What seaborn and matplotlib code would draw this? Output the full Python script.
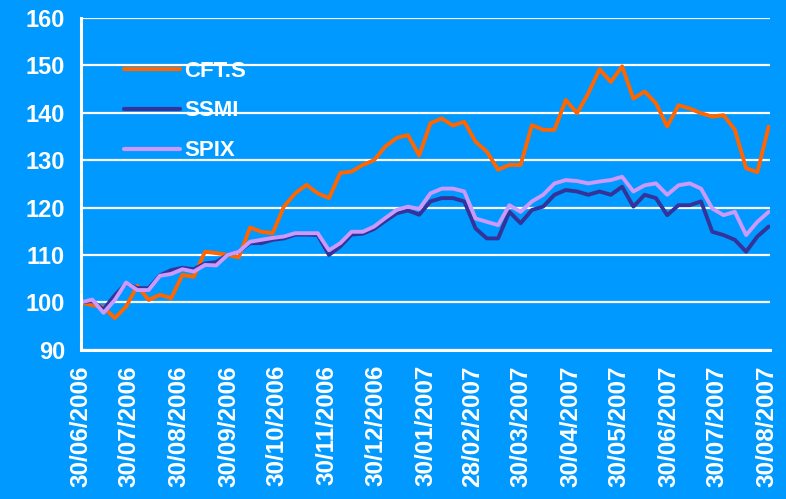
import matplotlib
matplotlib.use("Agg")
import matplotlib.pyplot as plt
import matplotlib.dates as mdates
import pandas as pd
import seaborn as sns

# weekly closes, rebased to 100 on 30/06/2006
dates = pd.date_range("2006-06-30", periods=62, freq="7D")

cft = [100.0, 99.4, 99.0, 96.7, 99.1, 103.5, 100.5, 101.6, 100.9, 105.8,
       105.4, 110.7, 110.4, 110.0, 109.5, 115.8, 114.9, 114.6, 120.2, 123.0,
       124.8, 123.0, 122.0, 127.3, 127.6, 129.0, 130.0, 132.9, 134.7, 135.3,
       131.0, 137.8, 138.8, 137.3, 138.1, 133.9, 131.8, 128.0, 129.0, 129.0,
       137.4, 136.4, 136.4, 142.7, 139.9, 144.1, 149.2, 146.5, 149.8, 143.0,
       144.5, 142.0, 137.1, 141.6, 140.9, 139.9, 139.2, 139.5, 136.4, 128.3,
       127.5, 137.1]

ssmi = [100.0, 100.3, 98.5, 101.5, 104.0, 103.0, 103.0, 105.7, 106.8, 107.3,
        107.0, 108.2, 108.5, 110.0, 110.7, 112.5, 112.5, 113.2, 113.5, 114.3,
        114.3, 114.2, 110.0, 111.8, 114.3, 114.5, 115.5, 117.2, 118.8, 119.4,
        118.5, 121.3, 122.0, 122.0, 121.3, 115.6, 113.5, 113.5, 119.1, 116.7,
        119.5, 120.2, 122.7, 123.7, 123.4, 122.7, 123.4, 122.7, 124.4, 120.2,
        122.7, 122.0, 118.4, 120.5, 120.5, 121.3, 114.9, 114.2, 113.2, 110.7,
        113.9, 116.0]

spix = [100.0, 100.6, 97.8, 100.5, 104.2, 102.6, 102.6, 105.6, 106.0, 107.0,
        106.5, 107.9, 107.8, 110.0, 110.7, 112.8, 113.2, 113.6, 113.9, 114.6,
        114.6, 114.6, 111.0, 112.5, 114.9, 114.9, 116.0, 117.8, 119.5, 120.2,
        119.7, 123.0, 124.0, 124.0, 123.4, 117.7, 117.0, 116.3, 120.5, 119.1,
        121.3, 122.7, 125.1, 125.8, 125.6, 125.1, 125.5, 125.8, 126.5, 123.4,
        124.7, 125.1, 122.7, 124.7, 125.1, 124.0, 119.8, 118.4, 119.1, 114.2,
        117.0, 119.1]

series_names = ["CFT.S", "SSMI", "SPIX"]
tick_dates = ["2006-06-30", "2006-07-30", "2006-08-30", "2006-09-30",
              "2006-10-30", "2006-11-30", "2006-12-30", "2007-01-30",
              "2007-02-28", "2007-03-30", "2007-04-30", "2007-05-30",
              "2007-06-30", "2007-07-30", "2007-08-30"]

df = pd.DataFrame({
    "date": list(dates) * 3,
    "value": cft + ssmi + spix,
    "series": sum([[n] * len(dates) for n in series_names], []),
})

bg = "#0099FF"
sns.set_style("white", {"axes.facecolor": bg, "figure.facecolor": bg})
plt.rcParams["font.family"] = ["Liberation Sans", "DejaVu Sans"]

fig = plt.figure(figsize=(7.86, 4.99), dpi=100)
ax = fig.add_axes([0.103, 0.299, 0.877, 0.665])

sns.lineplot(data=df, x="date", y="value", hue="series",
             hue_order=series_names,
             palette=["#FF6600", "#333399", "#CC99FF"],
             linewidth=2.8, ax=ax, legend=True)

ax.set_ylim(90, 160)
ax.set_yticks(range(90, 161, 10))
ax.set_xlim(pd.Timestamp("2006-06-30"), pd.Timestamp("2007-09-01"))
ax.set_xticks(pd.to_datetime(tick_dates))
ax.xaxis.set_major_formatter(mdates.DateFormatter("%d/%m/%Y"))

ax.grid(axis="y", color="white", linewidth=1.6)
ax.set_axisbelow(True)
for side in ["top", "right"]:
    ax.spines[side].set_visible(False)
for side in ["left", "bottom"]:
    ax.spines[side].set_color("white")
    ax.spines[side].set_linewidth(2.2)

ax.tick_params(axis="both", colors="white", direction="out", length=8,
               width=2, labelsize=17)
ax.tick_params(axis="x", rotation=90, pad=3, labelsize=17.5)
for lab in ax.get_xticklabels() + ax.get_yticklabels():
    lab.set_fontweight("bold")

ax.set_xlabel("")
ax.set_ylabel("")

leg = ax.legend(loc="upper left", bbox_to_anchor=(0.047, 0.905), frameon=False,
                fontsize=16, handlelength=2.5, handletextpad=0.2,
                labelspacing=0.85, borderpad=0)
for t in leg.get_texts():
    t.set_color("white")
    t.set_fontweight("bold")
for h in leg.get_lines():
    h.set_linewidth(3)

fig.savefig("out.png", dpi=100, facecolor=bg)
